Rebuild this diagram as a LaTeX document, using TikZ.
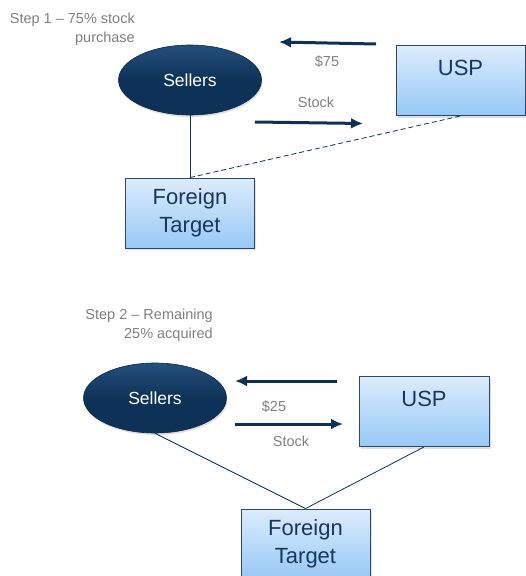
\documentclass[tikz,border=0pt]{standalone}
\usepackage{fontspec}
\setmainfont{Liberation Sans}
\usetikzlibrary{shapes.geometric, shadows, arrows.meta}

\definecolor{navy}{HTML}{0E3257}
\definecolor{navylight}{HTML}{24507C}
\definecolor{boxtop}{HTML}{DCECFC}
\definecolor{boxbot}{HTML}{97C8F6}
\definecolor{boxline}{HTML}{2C4A68}
\definecolor{boxtext}{HTML}{17375E}
\definecolor{labelgray}{HTML}{7F7F7F}

\tikzset{
	entity/.style={rectangle, draw=boxline, line width=0.9pt, top color=boxtop, bottom color=boxbot,
		minimum width=129pt, minimum height=70pt, inner sep=0pt, text=boxtext, align=center,
		font=\fontsize{22}{28}\selectfont, drop shadow={opacity=0.25, shadow xshift=1.5pt, shadow yshift=-2pt}},
	seller/.style={ellipse, draw=navy!80!black, line width=0.6pt, top color=navylight, bottom color=navy,
		middle color=navy, minimum width=143pt, minimum height=70pt, inner sep=0pt, text=white,
		font=\fontsize{17.5}{20}\selectfont, drop shadow={opacity=0.25, shadow xshift=1pt, shadow yshift=-2pt}},
	steptext/.style={text=labelgray, align=right, inner sep=0pt, font=\fontsize{14.5}{18.5}\selectfont},
	flowtext/.style={text=labelgray, inner sep=0pt, font=\fontsize{14.5}{17}\selectfont},
	flow/.style={-{Latex[length=12pt, width=11pt]}, line width=3pt, navy},
	link/.style={line width=0.8pt, navy}
}

\begin{document}
\begin{tikzpicture}[x=1pt, y=-1pt]
	\useasboundingbox (0,0) rectangle (526,576);

	%Step 1
	\node[steptext, anchor=north east] (step1) at (135,13) {Step 1 -- 75\% stock\\purchase};
	\node[seller] (sellers1) at (190,80) {Sellers};
	\node[entity, text depth=26pt, text height=16pt] (usp1) at (460.5,80.5) {USP};
	\node[entity] (target1) at (190,213) {Foreign\\Target};
	%%Flows
	\coordinate (pay1a) at (376,44);
	\coordinate (pay1b) at (279,42);
	\coordinate (stock1a) at (255,122);
	\coordinate (stock1b) at (363,123.5);
	\draw[flow] (pay1a) -- (pay1b);
	\draw[flow] (stock1a) -- (stock1b);
	\node[flowtext] (price1) at (327,62) {\$75};
	\node[flowtext] (share1) at (316,102) {Stock};
	%%Ownership
	\draw[link] (sellers1.south) -- (target1.north);
	\draw[link, dash pattern=on 5pt off 3pt] (target1.north) -- (usp1.south);

	%Step 2
	\node[steptext, anchor=north east] (step2) at (213,309) {Step 2 -- Remaining\\25\% acquired};
	\node[seller] (sellers2) at (155,398) {Sellers};
	\node[entity, minimum width=130pt, text depth=26pt, text height=16pt] (usp2) at (424,411.5) {USP};
	\node[entity] (target2) at (305.5,544) {Foreign\\Target};
	%%Flows
	\coordinate (pay2a) at (337,381);
	\coordinate (pay2b) at (235,381);
	\coordinate (stock2a) at (235,424);
	\coordinate (stock2b) at (343,424);
	\draw[flow] (pay2a) -- (pay2b);
	\draw[flow] (stock2a) -- (stock2b);
	\node[flowtext] (price2) at (274,407) {\$25};
	\node[flowtext] (share2) at (291,441) {Stock};
	%%Ownership
	\draw[link] (sellers2.south) -- (target2.north);
	\draw[link] (usp2.south) -- (target2.north);
\end{tikzpicture}
\end{document}
